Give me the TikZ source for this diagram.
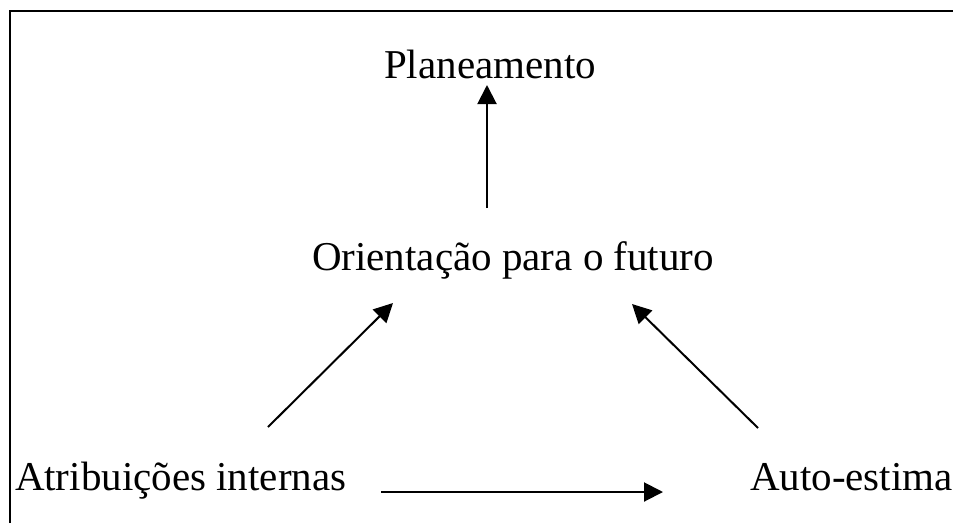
\documentclass[tikz,border=0pt]{standalone}
\usepackage{fontspec}
\setmainfont{Liberation Serif}
\usetikzlibrary{arrows.meta}

\begin{document}
\begin{tikzpicture}[x=1pt,y=-1pt,->,>={Triangle[length=19pt,width=19pt]},line width=2pt,
    main node/.style={inner sep=0pt,font=\fontsize{41}{48}\selectfont}]

            \useasboundingbox (0,0) rectangle (953,523);
            \draw[-,line width=2pt] (10,523) |- (953,11);

            \node[main node, anchor=base] (plan) at (490,78) {Planeamento};
            \node[main node, anchor=base] (orient) at (513,270) {Orientação para o futuro};
            \node[main node, anchor=base west] (attr) at (14,490) {Atribuições internas};
            \node[main node, anchor=base west] (self) at (749,490) {Auto-estima};

            \draw[->] ([shift={(-26pt,62pt)}]orient.base) to ([shift={(-3pt,-7pt)}]plan.base);
            \draw[->] ([shift={(254pt,63pt)}]attr.base west) to ([shift={(-120pt,-33pt)}]orient.base);
            \draw[->] ([shift={(9pt,62pt)}]self.base west) to ([shift={(119pt,-34pt)}]orient.base);
            \draw[->] ([shift={(367pt,-2pt)}]attr.base west) to ([shift={(-86pt,-2pt)}]self.base west);

            ;
        \end{tikzpicture}
\end{document}
